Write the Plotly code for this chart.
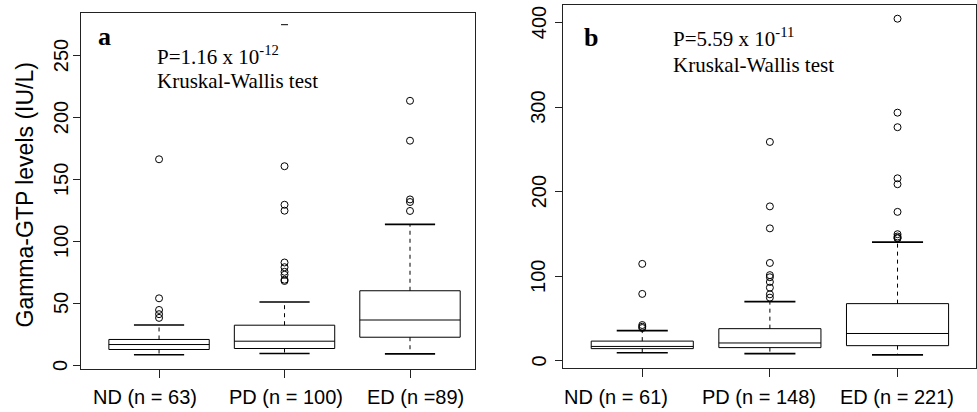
import plotly.graph_objects as go

# ---------------- data ----------------
categories_a = ["ND (n = 63)", "PD (n = 100)", "ED (n =89)"]
categories_b = ["ND (n = 61)", "PD (n = 148)", "ED (n = 221)"]

# panel a: five-number summaries
a_lower = [8.6, 9.7, 9.4]
a_q1 = [12.9, 13.7, 22.8]
a_median = [16.9, 19.6, 36.7]
a_q3 = [21.0, 32.5, 60.3]
a_upper = [32.7, 51.2, 113.9]
a_outliers = [
    [166.4, 54.2, 44.8, 41.4, 38.4],
    [160.8, 129.7, 124.9, 83.1, 79.3, 75.6, 73.2, 69.2, 68.2],
    [213.6, 181.4, 134.0, 131.9, 124.7],
]
a_clipped = [275.0]  # partly hidden mark near top of PD column

# panel b: five-number summaries
b_lower = [9.8, 8.7, 7.2]
b_q1 = [14.6, 15.8, 18.1]
b_median = [17.2, 21.3, 32.5]
b_q3 = [23.5, 38.2, 67.8]
b_upper = [35.9, 70.2, 140.5]
b_outliers = [
    [114.8, 79.3, 42.5, 40.5, 39.0],
    [259.0, 182.8, 156.8, 115.9, 101.5, 99.0, 93.4, 86.7, 78.8, 74.9],
    [404.7, 293.6, 276.4, 216.0, 209.0, 176.3, 149.9, 147.2, 145.6, 145.0],
]

a_yticks = [0, 50, 100, 150, 200, 250]
b_yticks = [0, 100, 200, 300, 400]

positions = [1, 2, 3]

W, H = 977, 412
fig = go.Figure()

def add_panel(xa, ya, lower, q1, med, q3, upper, outliers):
    xref = "x" if xa == 1 else "x%d" % xa
    yref = "y" if ya == 1 else "y%d" % ya
    fig.add_trace(go.Box(
        x=positions, q1=q1, median=med, q3=q3,
        lowerfence=q1, upperfence=q3,
        width=0.8, whiskerwidth=0, boxpoints=False,
        fillcolor="white", line=dict(color="black", width=1),
        xaxis=xref, yaxis=yref, hoverinfo="skip", showlegend=False))
    wx, wy = [], []
    for p, lo, a, b, hi in zip(positions, lower, q1, q3, upper):
        wx += [p, p, None, p, p, None]
        wy += [b, hi, None, a, lo, None]
    fig.add_trace(go.Scatter(
        x=wx, y=wy, mode="lines",
        line=dict(color="black", width=1, dash="4px,4px"),
        xaxis=xref, yaxis=yref, hoverinfo="skip", showlegend=False))
    cx, cy = [], []
    for p, lo, hi in zip(positions, lower, upper):
        cx += [p - 0.2, p + 0.2, None, p - 0.2, p + 0.2, None]
        cy += [hi, hi, None, lo, lo, None]
    fig.add_trace(go.Scatter(
        x=cx, y=cy, mode="lines",
        line=dict(color="black", width=1.6),
        xaxis=xref, yaxis=yref, hoverinfo="skip", showlegend=False))
    ox, oy = [], []
    for p, outs in zip(positions, outliers):
        ox += [p] * len(outs)
        oy += outs
    fig.add_trace(go.Scatter(
        x=ox, y=oy, mode="markers",
        marker=dict(symbol="circle-open", size=7, color="black",
                    line=dict(width=1, color="black")),
        xaxis=xref, yaxis=yref, hoverinfo="skip", showlegend=False))
    return xref, yref

add_panel(1, 1, a_lower, a_q1, a_median, a_q3, a_upper, a_outliers)
fig.add_trace(go.Scatter(
    x=[2] * len(a_clipped), y=a_clipped, mode="markers",
    marker=dict(symbol="line-ew", size=5, color="black",
                line=dict(width=1, color="black")),
    hoverinfo="skip", showlegend=False))
add_panel(2, 2, b_lower, b_q1, b_median, b_q3, b_upper, b_outliers)

sans = "Liberation Sans, Arial, Helvetica, sans-serif"
common_x = dict(showgrid=False, zeroline=False, showline=True, mirror=True,
                linecolor="#222", linewidth=1, ticks="outside", ticklen=8,
                tickcolor="#222", tickvals=positions, showticklabels=False)
common_y = dict(showgrid=False, zeroline=False, showline=True, mirror=True,
                linecolor="#222", linewidth=1, ticks="outside", ticklen=7,
                tickcolor="#222", showticklabels=False)

fig.update_layout(
    width=W, height=H, autosize=False,
    margin=dict(l=0, r=0, t=0, b=0),
    paper_bgcolor="white", plot_bgcolor="white",
    xaxis=dict(common_x, domain=[81 / W, 475 / W], range=[0.378, 3.518], anchor="y"),
    yaxis=dict(common_y, domain=[1 - 368.7 / H, 1 - 13.3 / H], range=[-2.6, 284.2],
               tickvals=a_yticks, anchor="x"),
    xaxis2=dict(common_x, domain=[563 / W, 976.4 / W], range=[0.379, 3.618], anchor="y2"),
    yaxis2=dict(common_y, domain=[1 - 368 / H, 1 - 5 / H], range=[-8.3, 420.9],
                tickvals=b_yticks, anchor="x2"),
)

serif = "Liberation Serif, Times New Roman, Times, serif"
def ann(text, xpx, ypx, size, bold=False):
    fig.add_annotation(
        text=("<b>%s</b>" % text) if bold else text,
        x=xpx / W, y=1 - ypx / H, xref="paper", yref="paper",
        xanchor="left", yanchor="middle", showarrow=False,
        font=dict(family=serif, size=size, color="black"), borderpad=0)

ann("a", 96.5, 36.5, 26, bold=True)
ann("P=1.16 x 10<sup>-12</sup>", 156, 55.0, 21)
ann("Kruskal-Wallis test", 156, 81.5, 21)
ann("b", 582.5, 37.5, 26, bold=True)
ann("P=5.59 x 10<sup>-11</sup>", 671.5, 38.0, 21)
ann("Kruskal-Wallis test", 671.5, 64.5, 21)

# rotated y tick labels (R style), placed at the tick values
for ticks, yref, xc in ((a_yticks, "y", 60.5), (b_yticks, "y2", 538.5)):
    for v in ticks:
        fig.add_annotation(
            text=str(v), x=xc / W, xref="paper", y=v, yref=yref,
            xanchor="center", yanchor="middle", textangle=-90, showarrow=False,
            font=dict(family=sans, size=20, color="black"), borderpad=0)

fig.add_annotation(
    text="Gamma-GTP levels (IU/L)", x=24 / W, y=1 - 195.5 / H,
    xref="paper", yref="paper", xanchor="center", yanchor="middle",
    textangle=-90, showarrow=False,
    font=dict(family=sans, size=23, color="black"), borderpad=0)

# x category labels under the ticks (label offsets as in the original figure)
label_shift_a = [-13.8, 1.7, 5.5]
label_shift_b = [-26.3, -10.7, -0.7]
for cats, xref, shifts in ((categories_a, "x", label_shift_a), (categories_b, "x2", label_shift_b)):
    for p, c, s in zip(positions, cats, shifts):
        fig.add_annotation(
            text=c, x=p, xref=xref, y=1 - 397 / H, yref="paper",
            xanchor="center", yanchor="middle", showarrow=False, xshift=s,
            font=dict(family=sans, size=20, color="black"), borderpad=0)

fig.write_html("out.html", config={"displayModeBar": False, "staticPlot": True},
               post_script="document.body.style.margin='0';document.body.style.overflow='hidden';")
